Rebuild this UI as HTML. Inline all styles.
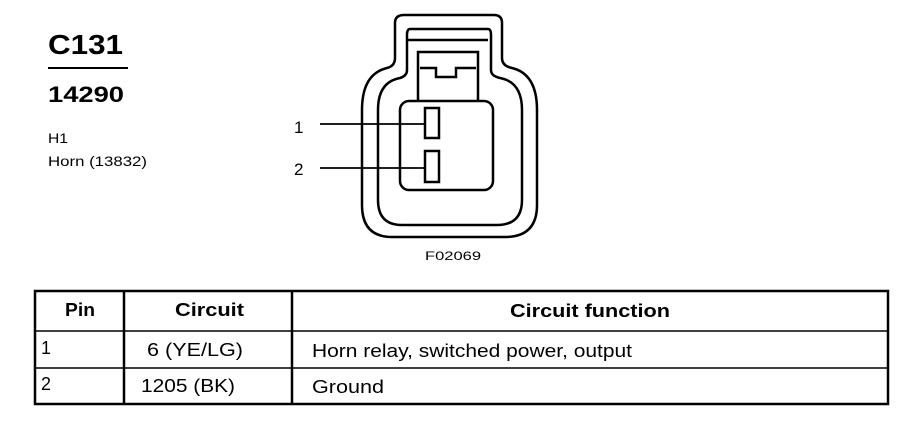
<!DOCTYPE html>
<html><head><style>
body{margin:0;width:902px;height:448px;background:#fff;overflow:hidden;font-family:"Liberation Sans",Arial,sans-serif;}
</style></head><body>
<svg style="position:absolute;left:0;top:0" width="902" height="448" font-family="Liberation Sans,Arial,sans-serif">
<text x="48" y="54" font-size="28" font-weight="bold" textLength="75" lengthAdjust="spacingAndGlyphs">C131</text>
<rect x="48" y="67" width="80" height="2"/>
<text x="48" y="102" font-size="22" font-weight="bold" textLength="76" lengthAdjust="spacingAndGlyphs">14290</text>
<text x="48" y="143" font-size="14" textLength="20" lengthAdjust="spacingAndGlyphs">H1</text>
<text x="48" y="166" font-size="14" textLength="99" lengthAdjust="spacingAndGlyphs">Horn (13832)</text>
<g fill="none" stroke="#000" stroke-width="2.5">
<path d="M404 15 H494 Q502 15 502 23 V58 Q502 66 512 68 Q537 74 537 110 V205 Q537 237 505 237 H392 Q362 237 362 205 V110 Q362 74 387 68 Q395 66 395 58 V23 Q395 15 404 15 Z"/>
<path d="M410 29 H488 Q491 29 491 35 V70 Q491 76 500 78 Q522 82 522 110 V200 Q522 225 497 225 H402 Q378 225 378 200 V110 Q378 82 400 78 Q407 76 407 70 V35 Q407 29 410 29 Z"/>
<path d="M408 40 H488"/>
<path d="M418 100 V52 H478 V100"/>
<path d="M420 68 H436 V77 H456 V68 H476"/>
<rect x="400" y="101" width="93" height="89" rx="9" fill="#fff"/>
<rect x="425" y="108" width="14" height="30"/>
<rect x="425" y="151" width="14" height="31"/>
</g>
<g stroke="#000" stroke-width="1.8">
<line x1="320" y1="124" x2="425" y2="124"/>
<line x1="320" y1="168" x2="425" y2="168"/>
</g>
<text x="294" y="133" font-size="17">1</text>
<text x="294" y="175" font-size="17">2</text>
<text x="425" y="260" font-size="12" textLength="56" lengthAdjust="spacingAndGlyphs">F02069</text>
<g stroke="#000" stroke-width="2.5" fill="none">
<rect x="35" y="291" width="853" height="113"/>
<line x1="35" y1="331" x2="888" y2="331" stroke-width="1.5"/>
<line x1="35" y1="368" x2="888" y2="368" stroke-width="1.5"/>
<line x1="124" y1="291" x2="124" y2="404"/>
<line x1="292" y1="291" x2="292" y2="404"/>
</g>
<g font-size="18">
<text x="65" y="316" font-weight="bold" textLength="30" lengthAdjust="spacingAndGlyphs">Pin</text>
<text x="175" y="316" font-weight="bold" textLength="69" lengthAdjust="spacingAndGlyphs">Circuit</text>
<text x="510" y="317" font-weight="bold" textLength="160" lengthAdjust="spacingAndGlyphs">Circuit function</text>
<text x="41" y="354">1</text>
<text x="147" y="356" textLength="96" lengthAdjust="spacingAndGlyphs">6 (YE/LG)</text>
<text x="312" y="357" textLength="320" lengthAdjust="spacingAndGlyphs">Horn relay, switched power, output</text>
<text x="41" y="390">2</text>
<text x="141" y="392" textLength="94" lengthAdjust="spacingAndGlyphs">1205 (BK)</text>
<text x="312" y="393" textLength="72" lengthAdjust="spacingAndGlyphs">Ground</text>
</g>
</svg>
</body></html>
